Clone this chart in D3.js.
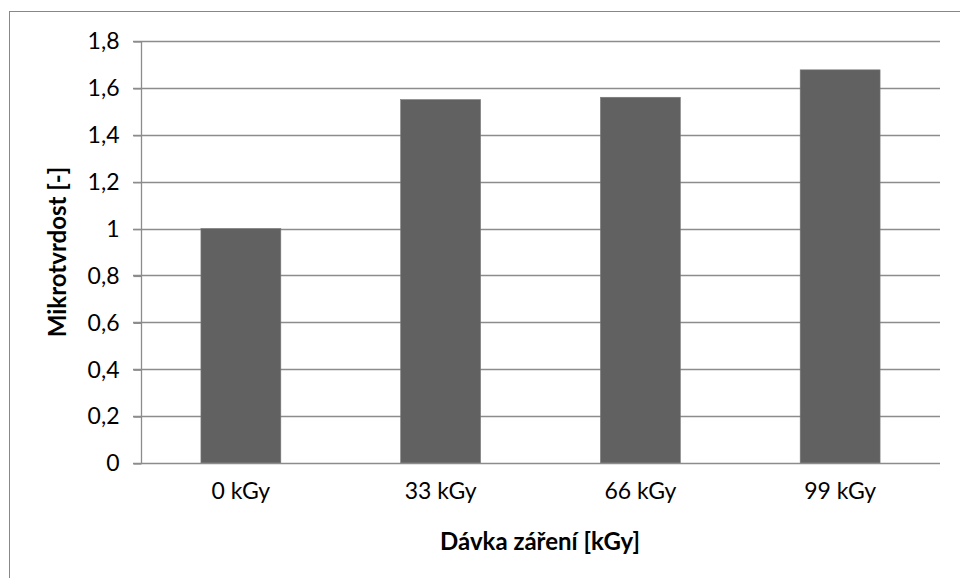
<!DOCTYPE html>
<html>
<head>
<meta charset="utf-8">
<script src="https://cdn.jsdelivr.net/npm/d3@7"></script>
<style>
  html, body { margin: 0; padding: 0; background: #fff; }
  svg { display: block; }
  text { font-family: Lato, "Open Sans", sans-serif; fill: #000; }
</style>
</head>
<body>
<svg id="chart" width="960" height="578"></svg>
<script>
const categories = ["0 kGy", "33 kGy", "66 kGy", "99 kGy"];
const values = [1.0, 1.55, 1.56, 1.677];
const yTicks = [0, 0.2, 0.4, 0.6, 0.8, 1, 1.2, 1.4, 1.6, 1.8];
const xTitle = "Dávka záření [kGy]";
const yTitle = "Mikrotvrdost [-]";

const svg = d3.select("#chart");
const margin = { left: 141, right: 20, top: 41, bottom: 115 };
const W = 960, H = 578;
const FONT = "Lato, 'Open Sans', sans-serif";

// outer chart border
svg.append("rect")
  .attr("x", 9.5).attr("y", 11.5)
  .attr("width", 1000).attr("height", 1000)
  .attr("fill", "none").attr("stroke", "#888").attr("stroke-width", 1);

const x = d3.scaleBand().domain(categories).range([margin.left, W - margin.right]).paddingInner(0.6).paddingOuter(0.3);
const y = d3.scaleLinear().domain([0, 1.8]).range([H - margin.bottom, margin.top]);

const fmt = d => String(+d.toFixed(1)).replace(".", ",");

// gridlines
svg.append("g")
  .selectAll("line").data(yTicks.slice(1)).join("line")
  .attr("x1", margin.left - 8).attr("x2", W - margin.right)
  .attr("y1", d => Math.round(y(d)) + 0.5).attr("y2", d => Math.round(y(d)) + 0.5)
  .attr("stroke", "#8c8c8c").attr("stroke-width", 1.3);

// bars
svg.append("g")
  .selectAll("rect").data(values).join("rect")
  .attr("x", (d, i) => x(categories[i]))
  .attr("width", x.bandwidth())
  .attr("y", d => y(d))
  .attr("height", d => y(0) - y(d))
  .attr("fill", "#616161")
  .attr("stroke", "#7a7a7a").attr("stroke-width", 0.6);

// y axis
const yAxis = d3.axisLeft(y).tickValues(yTicks).tickSize(8).tickPadding(14).tickFormat(fmt);
const gy = svg.append("g").attr("transform", `translate(${margin.left + 0.5},0.5)`).call(yAxis);
gy.attr("font-size", null).attr("font-family", null);
gy.select(".domain").attr("stroke", "#8c8c8c").attr("stroke-width", 1.3).attr("d", `M0,${y(1.8)}V${y(0)}`);
gy.selectAll(".tick line").attr("stroke", "#8c8c8c").attr("stroke-width", 1.3);
gy.selectAll(".tick text").attr("font-size", 23).attr("font-family", FONT).attr("fill", "#000");

// x axis
const xAxis = d3.axisBottom(x).tickSize(0).tickPadding(19);
const gx = svg.append("g").attr("transform", `translate(0,${Math.round(y(0)) + 0.5})`).call(xAxis);
gx.attr("font-size", null).attr("font-family", null);
gx.select(".domain").attr("stroke", "#8c8c8c").attr("stroke-width", 1.3).attr("d", `M${margin.left - 8},0H${W - margin.right}`);
gx.selectAll(".tick text").attr("font-size", 23).attr("font-family", FONT).attr("fill", "#000");

// titles
svg.append("text")
  .attr("x", 540).attr("y", 550)
  .attr("text-anchor", "middle")
  .attr("font-size", 24).attr("font-weight", "bold").attr("font-family", FONT)
  .text(xTitle);

svg.append("text")
  .attr("transform", "translate(66,252) rotate(-90)")
  .attr("text-anchor", "middle")
  .attr("font-size", 24).attr("font-weight", "bold").attr("font-family", FONT)
  .text(yTitle);
</script>
</body>
</html>
